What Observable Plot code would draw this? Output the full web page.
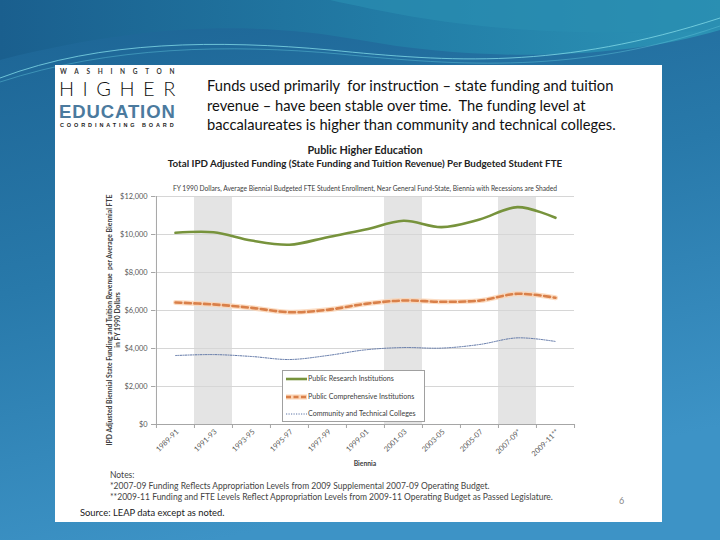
<!DOCTYPE html>
<html><head><meta charset="utf-8">
<script src="https://cdn.jsdelivr.net/npm/d3@7"></script>
<script src="https://cdn.jsdelivr.net/npm/@observablehq/plot@0.6"></script>
<style>
html,body{margin:0;padding:0;}
body{width:720px;height:540px;position:relative;overflow:hidden;font-family:Lato,"Open Sans",sans-serif;background:#2a7fb2;}
#bg{position:absolute;left:0;top:0;}
#panel{position:absolute;left:55px;top:65px;width:607px;height:457px;background:#fff;}
.abs{position:absolute;white-space:nowrap;}
.lg{line-height:normal;}
#chart{position:absolute;left:100px;top:185px;}
#legend{position:absolute;left:282px;top:370px;width:141px;height:50px;border:1px solid #a0a0a0;background:#fff;}
.li{position:absolute;left:3px;height:10px;font-size:7.1px;color:#404040;line-height:10px;}
.li svg{vertical-align:middle;margin-right:1px;}
</style></head><body>
<svg id="bg" width="720" height="540">
  <defs>
    <linearGradient id="g1" x1="0" y1="0" x2="0.3" y2="1">
      <stop offset="0" stop-color="#1c6393"/>
      <stop offset="0.5" stop-color="#2879aa"/>
      <stop offset="1" stop-color="#3d93c6"/>
    </linearGradient>
    <linearGradient id="g2" x1="0" y1="0" x2="1" y2="0">
      <stop offset="0" stop-color="#1a5f8e"/>
      <stop offset="0.6" stop-color="#237fa8"/>
      <stop offset="1" stop-color="#2c93b5"/>
    </linearGradient>
  </defs>
  <rect width="720" height="540" fill="url(#g1)"/>
  <path d="M0,0 H720 V30 C620,60 480,62 360,40 C260,22 150,22 0,60 Z" fill="url(#g2)"/>
  <path d="M330,0 C420,20 520,40 720,30 V0 Z" fill="#2a8db0" opacity="0.7"/>
  <path d="M0,78 C100,40 220,40 330,50 C450,62 560,70 720,18" fill="none" stroke="#7fd8e6" stroke-width="1" opacity="0.8"/>
  <path d="M0,82 C110,46 230,44 340,54 C460,66 580,74 720,26" fill="none" stroke="#5cc0d8" stroke-width="0.8" opacity="0.6"/>
</svg>
<div id="panel"></div>

<div class="abs lg" style="left:60px;top:68px;font-size:6.5px;font-weight:700;letter-spacing:7.7px;color:#3a3a3a;">WASHINGTON</div>
<div class="abs lg" style="left:59px;top:76.2px;font-size:20px;font-weight:300;letter-spacing:8.5px;color:#111;">HIGHER</div>
<div class="abs lg" style="left:59px;top:100.6px;font-family:'Liberation Sans',Arial,sans-serif;font-size:18.5px;font-weight:700;letter-spacing:0.9px;color:#4b7a9e;">EDUCATION</div>
<div class="abs lg" style="left:60px;top:121.8px;font-family:'Liberation Sans',Arial,sans-serif;font-size:5.5px;font-weight:700;letter-spacing:2.9px;color:#222;">COORDINATING BOARD</div>

<div class="abs" style="left:207px;top:76px;font-size:14.7px;line-height:19.5px;color:#111;">Funds used primarily&nbsp; for instruction – state funding and tuition<br>revenue – have been stable over time.&nbsp; The funding level at<br>baccalaureates is higher than community and technical colleges.</div>

<div class="abs" style="left:365px;top:143px;transform:translateX(-50%);font-size:10.8px;font-weight:700;color:#222;">Public Higher Education</div>
<div class="abs" style="left:365px;top:157px;transform:translateX(-50%);font-size:9.8px;font-weight:700;color:#222;">Total IPD Adjusted Funding (State Funding and Tuition Revenue) Per Budgeted Student FTE</div>
<div class="abs" style="left:365px;top:184px;transform:translateX(-50%);font-size:6.7px;color:#404040;">FY 1990 Dollars, Average Biennial Budgeted FTE Student Enrollment, Near General Fund-State, Biennia with Recessions are Shaded</div>

<div class="abs" style="left:113px;top:320px;transform:translate(-50%,-50%) rotate(-90deg);text-align:center;font-size:6.8px;font-weight:700;color:#404040;line-height:8px;">IPD Adjusted Biennial State Funding and Tuition Revenue&nbsp; per Average Biennial FTE<br>in FY 1990 Dollars</div>

<div id="chart"></div>
<div class="abs" style="left:365px;top:459px;transform:translateX(-50%);font-size:6.8px;font-weight:700;color:#404040;">Biennia</div>

<div id="legend"></div>

<div class="abs" style="left:110px;top:470px;font-size:8.5px;line-height:11px;color:#444;">Notes:<br>*2007-09 Funding Reflects Appropriation Levels from 2009 Supplemental 2007-09 Operating Budget.<br>**2009-11 Funding and FTE Levels Reflect Appropriation Levels from 2009-11 Operating Budget as Passed Legislature.</div>
<div class="abs" style="left:619px;top:495px;font-size:9px;color:#888;">6</div>
<div class="abs" style="left:80px;top:507px;font-size:9.4px;color:#1a1a1a;">Source: LEAP data except as noted.</div>

<script>
const biennia = ["1989-91","1991-93","1993-95","1995-97","1997-99","1999-01","2001-03","2003-05","2005-07","2007-09*","2009-11**"];
const research = [10090,10120,9680,9460,9860,10260,10720,10390,10790,11440,10880];
const comprehensive = [6420,6320,6140,5910,6035,6350,6525,6460,6520,6880,6670];
const community = [3630,3680,3580,3420,3630,3930,4050,4020,4210,4560,4370];
const recessions = ["1991-93","2001-03","2007-09*"];
const yTicks = [0,2000,4000,6000,8000,10000,12000];
const seriesNames = ["Public Research Institutions","Public Comprehensive Institutions","Community and Technical Colleges"];

const W = 490, H = 285, ML = 55, MR = 16;
const bw = (W - ML - MR) / biennia.length;
const rows = (vals) => biennia.map((b, i) => ({b, v: vals[i]}));

const chart = Plot.plot({
  width: W, height: H,
  marginLeft: ML, marginRight: MR, marginTop: 11, marginBottom: 46,
  style: {fontFamily: "Lato, sans-serif", fontSize: "7.4px", color: "#595959", background: "transparent", overflow: "visible"},
  x: {type: "band", domain: biennia, padding: 0},
  y: {domain: [0, 12000]},
  marks: [
    Plot.barY(recessions, {x: d => d, y1: 0, y2: 12000, fill: "#e4e4e4", inset: 0}),
    Plot.gridY(yTicks, {stroke: "#d6d6d6", strokeOpacity: 1, strokeWidth: 1}),
    Plot.ruleY([0], {stroke: "#a6a6a6"}),
    Plot.ruleX([biennia[0]], {y1: 0, y2: 12000, dx: -bw / 2, stroke: "#a6a6a6"}),
    Plot.axisY({ticks: yTicks, tickFormat: d => "$" + d3.format(",")(d), tickSize: 4, stroke: "#a6a6a6", label: null, tickPadding: 4, fill: "#595959"}),
    Plot.axisX({ticks: biennia, text: null, tickSize: 4, dx: -bw / 2, stroke: "#a6a6a6", label: null}),
    Plot.axisX({ticks: [biennia[biennia.length - 1]], text: null, tickSize: 4, dx: bw / 2, stroke: "#a6a6a6", label: null}),
    Plot.axisX({ticks: biennia, tickSize: 0, tickRotate: -45, tickPadding: 6, label: null, fill: "#595959", dx: 2}),
    Plot.line(rows(community), {x: "b", y: "v", curve: "catmull-rom", stroke: "#5a72a4", strokeWidth: 1, strokeDasharray: "1.2,1.3"}),
    Plot.line(rows(comprehensive), {x: "b", y: "v", curve: "catmull-rom", stroke: "#fbd3b3", strokeWidth: 5, strokeOpacity: 0.8}),
    Plot.line(rows(comprehensive), {x: "b", y: "v", curve: "catmull-rom", stroke: "#d9804a", strokeWidth: 2.6, strokeDasharray: "6,3.5"}),
    Plot.line(rows(research), {x: "b", y: "v", curve: "catmull-rom", stroke: "#77933c", strokeWidth: 2.6})
  ]
});
document.getElementById("chart").appendChild(chart);

const legend = document.getElementById("legend");
const legStyles = [
  {stroke: "#77933c", w: 2.6, dash: null, glow: false},
  {stroke: "#d9804a", w: 2.6, dash: "5,2.5", glow: true},
  {stroke: "#5a72a4", w: 1, dash: "1.2,1.3", glow: false}
];
seriesNames.forEach((name, i) => {
  const s = legStyles[i];
  const div = document.createElement("div");
  div.className = "li";
  div.style.top = (3 + i * 17.5) + "px";
  div.innerHTML = `<svg width="21" height="6">${s.glow ? `<line x1="0" x2="21" y1="3" y2="3" stroke="#fbd3b3" stroke-width="5"/>` : ""}<line x1="0" x2="21" y1="3" y2="3" stroke="${s.stroke}" stroke-width="${s.w}" ${s.dash ? `stroke-dasharray="${s.dash}"` : ""}/></svg>${name}`;
  legend.appendChild(div);
});
</script>
</body></html>
